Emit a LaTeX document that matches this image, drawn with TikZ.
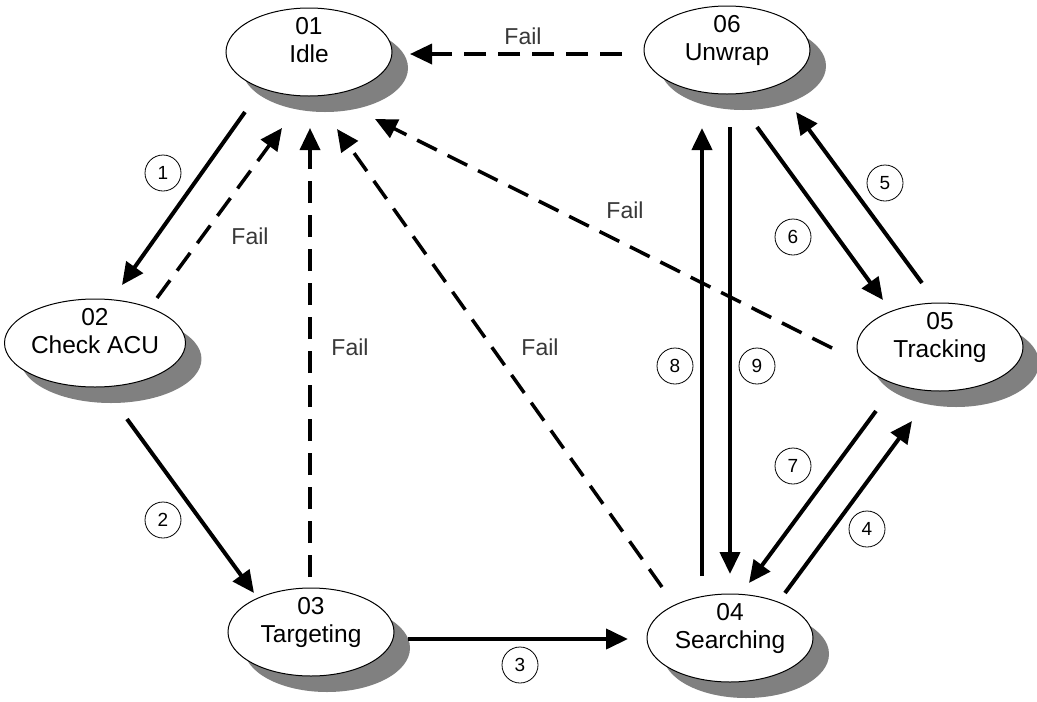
\documentclass[tikz,border=0pt]{standalone}
\usepackage{fontspec}
\setmainfont{Liberation Sans}
\usetikzlibrary{shapes.geometric,shadows,arrows.meta,calc}
\newcommand\stxt[2]{\raisebox{3pt}[0pt][0pt]{\begin{tabular}{@{}c@{}}#1\\#2\end{tabular}}}
\begin{document}
\begin{tikzpicture}[x=1pt,y=-1pt,
  state/.style={ellipse, draw=black, line width=1pt, fill=white,
    minimum width=166pt, minimum height=88pt, inner sep=0pt,
    drop shadow={shadow xshift=16pt, shadow yshift=-16pt, fill=black!50, opacity=1},
    font=\fontsize{24.5}{28}\selectfont},
  num/.style={circle, draw=black, line width=0.8pt, minimum size=36pt, inner sep=0pt,
    font=\fontsize{19}{22}\selectfont},
  fail/.style={text=black!78, font=\fontsize{23}{26}\selectfont, inner sep=0pt},
  arr/.style={line width=4pt, -{Triangle[length=22pt,width=20pt]}},
  farr/.style={line width=3.5pt, dash pattern=on 22pt off 12pt, -{Triangle[length=22pt,width=20pt]}}
]
\useasboundingbox[fill=white] (0,0) rectangle (1037,702);

% states
\node[state] (idle) at (309,52) {\stxt{01}{Idle}};
\node[state] (unw) at (727,50) {\stxt{06}{Unwrap}};
\node[state, minimum width=176pt] (chk) at (95,343) {\stxt{02}{Check ACU}};
\node[state] (tgt) at (311,632) {\stxt{03}{Targeting}};
\node[state] (srch) at (730,638) {\stxt{04}{Searching}};
\node[state] (trk) at (940,347) {\stxt{05}{Tracking}};

% solid transitions
\draw[arr] ($(idle)+(-64,60)$) -- ($(chk)+(27,-58)$);
\draw[arr] ($(chk)+(32,76)$) -- ($(tgt)+(-57,-39)$);
\draw[arr] ($(tgt)+(97,7)$) -- ($(srch)+(-102,1)$);
\draw[arr] ($(srch)+(55,-45)$) -- ($(trk)+(-28,74)$);
\draw[arr] ($(trk)+(-18,-64)$) -- ($(unw)+(69,62)$);
\draw[arr] ($(unw)+(30,77)$) -- ($(trk)+(-57,-47)$);
\draw[arr] ($(trk)+(-64,64)$) -- ($(srch)+(19,-55)$);
\draw[arr] ($(srch)+(-28,-62)$) -- ($(unw)+(-25,78)$);
\draw[arr] ($(unw)+(3,77)$) -- ($(srch)+(0,-64)$);

% fail transitions
\draw[farr] ($(unw)+(-105,4)$) -- ($(idle)+(101,2)$);
\draw[farr] ($(chk)+(62,-45)$) -- ($(idle)+(-27,76)$);
\draw[farr] ($(tgt)+(-1,-55)$) -- ($(idle)+(1,76)$);
\draw[farr] ($(srch)+(-68,-51)$) -- ($(idle)+(28,77)$);
\draw[farr] ($(trk)+(-108,1)$) -- ($(idle)+(66,67)$);

% numbers
\node[num] (n1) at (163,173) {1};
\node[num] (n2) at (163,520) {2};
\node[num] (n3) at (520,665) {3};
\node[num] (n4) at (867,529) {4};
\node[num] (n5) at (885,183) {5};
\node[num] (n6) at (793,237) {6};
\node[num] (n7) at (793,466) {7};
\node[num] (n8) at (675,366) {8};
\node[num] (n9) at (757,366) {9};

% fail labels
\node[fail] (f1) at (523,36) {Fail};
\node[fail] (f2) at (250,236) {Fail};
\node[fail] (f3) at (350,347) {Fail};
\node[fail] (f4) at (540,347) {Fail};
\node[fail] (f5) at (625,210) {Fail};
\end{tikzpicture}
\end{document}
